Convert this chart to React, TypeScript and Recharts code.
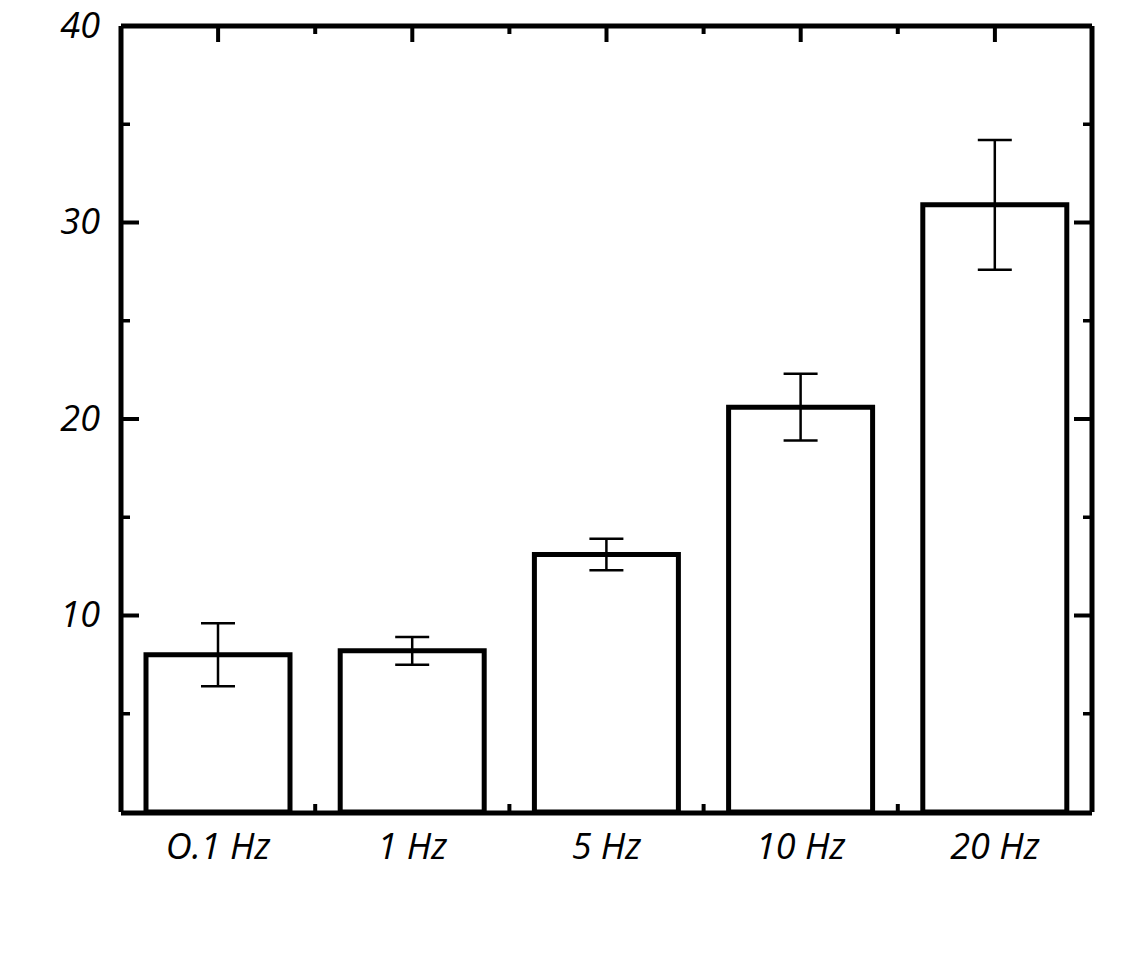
import React from "react";
import { BarChart, Bar, XAxis, YAxis, ErrorBar } from "recharts";

const categories = ["O.1 Hz", "1 Hz", "5 Hz", "10 Hz", "20 Hz"];
const values = [8.0, 8.2, 13.1, 20.6, 30.9];
const errors = [1.6, 0.7, 0.8, 1.7, 3.3];
const yTicks = [5, 10, 15, 20, 25, 30, 35, 40];
const topTicks = [0.5, 1, 1.5, 2, 2.5, 3, 3.5, 4, 4.5];
const bottomTicks = [1, 2, 3, 4];

const data = categories.map((name, i) => ({ name, pos: i + 0.5, value: values[i], err: errors[i] }));

const FONT = "'Open Sans', 'DejaVu Sans', sans-serif";
const LW = 5;

const LeftTick = (props: any) => {
  const { x, y, payload } = props;
  const major = Number(payload.value) % 10 === 0;
  return (
    <g>
      <line x1={x} x2={x + (major ? 18 : 9)} y1={y} y2={y} stroke="#000" strokeWidth={major ? 4 : 3.5} />
      {major && (
        <text x={x - 21} y={y - 2} textAnchor="end" dominantBaseline="central" fontFamily={FONT} fontStyle="italic" fontSize={36} fill="#000">
          {payload.value}
        </text>
      )}
    </g>
  );
};

const RightTick = (props: any) => {
  const { x, y, payload } = props;
  const major = Number(payload.value) % 10 === 0;
  return <line x1={x} x2={x - (major ? 18 : 9)} y1={y} y2={y} stroke="#000" strokeWidth={major ? 4 : 3.5} />;
};

const TopTick = (props: any) => {
  const { x, y, payload } = props;
  const major = payload.value % 1 !== 0;
  return <line x1={x} x2={x} y1={y} y2={y + (major ? 16 : 8)} stroke="#000" strokeWidth={4} />;
};

const BottomTick = (props: any) => {
  const { x, y } = props;
  return <line x1={x} x2={x} y1={y} y2={y - 8} stroke="#000" strokeWidth={4} />;
};

const CatTick = (props: any) => {
  const { x, y, payload } = props;
  return (
    <text x={x} y={y + 32} textAnchor="middle" dominantBaseline="central" fontFamily={FONT} fontStyle="italic" fontSize={36} fill="#000">
      {payload.value}
    </text>
  );
};

export default function App() {
  return (
    <div style={{ position: "absolute", left: 0, top: 0, width: 1125, height: 954, background: "#fff" }}>
      <BarChart width={1125} height={954} data={data} margin={{ top: 25, right: 32, bottom: 140, left: 120 }}>
        <XAxis xAxisId="cat" dataKey="name" type="category" orientation="bottom" height={1} axisLine={{ stroke: "#000", strokeWidth: LW }} tickLine={false} tickSize={0} tickMargin={0} tick={<CatTick />} interval={0} />
        <XAxis xAxisId="bot" dataKey="pos" type="number" domain={[0, 5]} allowDataOverflow ticks={bottomTicks} orientation="bottom" height={1} axisLine={false} tickLine={false} tickSize={0} tickMargin={0} tick={<BottomTick />} interval={0} />
        <XAxis xAxisId="top" dataKey="pos" type="number" domain={[0, 5]} allowDataOverflow ticks={topTicks} orientation="top" height={1} axisLine={{ stroke: "#000", strokeWidth: LW }} tickLine={false} tickSize={0} tickMargin={0} tick={<TopTick />} interval={0} />
        <YAxis yAxisId="left" dataKey="value" type="number" domain={[0, 40]} allowDataOverflow ticks={yTicks} width={1} axisLine={{ stroke: "#000", strokeWidth: LW }} tickLine={false} tickSize={0} tickMargin={0} tick={<LeftTick />} interval={0} />
        <YAxis yAxisId="right" dataKey="value" type="number" orientation="right" domain={[0, 40]} allowDataOverflow ticks={yTicks} width={1} axisLine={{ stroke: "#000", strokeWidth: LW }} tickLine={false} tickSize={0} tickMargin={0} tick={<RightTick />} interval={0} />
        <Bar xAxisId="cat" yAxisId="left" dataKey="value" barSize={144} fill="#fff" stroke="#000" strokeWidth={LW} isAnimationActive={false}>
          <ErrorBar dataKey="err" width={17} stroke="#000" strokeWidth={2.5} />
        </Bar>
      </BarChart>
    </div>
  );
}
